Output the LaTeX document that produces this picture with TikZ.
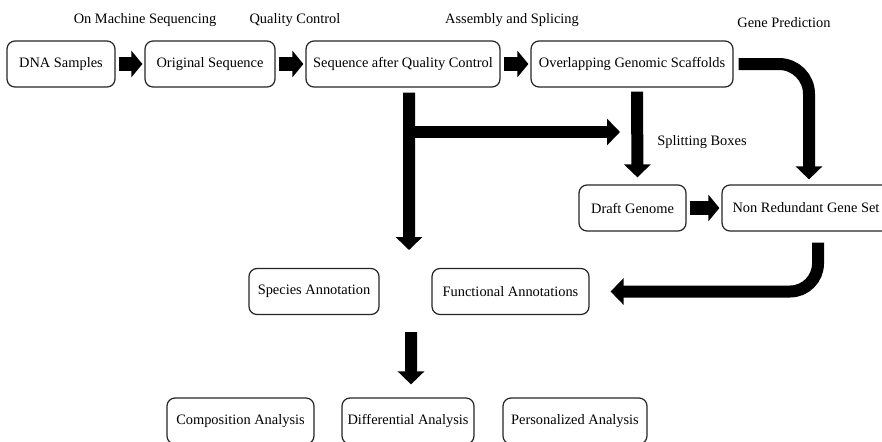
\documentclass[tikz,border=0pt]{standalone}
\usepackage{fontspec}
\setmainfont{Liberation Serif}
\usetikzlibrary{arrows.meta}

\begin{document}
\begin{tikzpicture}[x=0.02cm, y=-0.02cm,
	box/.style={draw=black!85, line width=0.7pt, rounded corners=0.16cm, minimum height=0.92cm, inner sep=0pt, font=\fontsize{8.2}{10}\selectfont},
	lbl/.style={font=\fontsize{8.2}{10}\selectfont},
	fat/.style={line width=0.29cm, -{Triangle[length=0.22cm, width=0.52cm]}, shorten <=0.06cm, shorten >=0.04cm},
	big/.style={line width=0.24cm, -{Triangle[length=0.26cm, width=0.52cm]}}]
	\fill[white] (0,0) rectangle (882,441);
	\useasboundingbox (0,0) rectangle (882,441);
	
	\node[box, minimum width=2.16cm] (dna) at (61,64) {DNA Samples};
	\node[box, minimum width=2.6cm] (orig) at (210,64) {Original Sequence};
	\node[box, minimum width=3.88cm] (seqqc) at (403,64) {Sequence after Quality Control};
	\node[box, minimum width=4.04cm] (scaff) at (632,64) {Overlapping Genomic Scaffolds};
	\node[box, minimum width=2.14cm] (draft) at (632.5,208) {Draft Genome};
	\node[box, minimum width=3.36cm] (nrgs) at (806,208) {Non Redundant Gene Set};
	\node[box, minimum width=2.6cm] (species) at (314,291.5) {Species Annotation};
	\node[box, minimum width=3.14cm] (func) at (510.5,291.5) {Functional Annotations};
	\node[box, minimum width=2.94cm] (comp) at (240.5,421) {Composition Analysis};
	\node[box, minimum width=2.64cm] (diff) at (408,421) {Differential Analysis};
	\node[box, minimum width=2.88cm] (pers) at (575,421) {Personalized Analysis};
	
	\node[lbl] (seqlbl) at (145,20) {On Machine Sequencing};
	\node[lbl] (qclbl) at (295,20) {Quality Control};
	\node[lbl] (asmlbl) at (512,20) {Assembly and Splicing};
	\node[lbl] (genelbl) at (784,23) {Gene Prediction};
	\node[lbl] (splitlbl) at (702,142) {Splitting Boxes};
	
	\coordinate (fork) at (409,132);
	\coordinate (annot) at (409,250);
	\coordinate (merge) at (620,132);
	\coordinate (results) at (411,332);
	
	\draw[fat] (dna) -- (orig);
	\draw[fat] (orig) -- (seqqc);
	\draw[fat] (seqqc) -- (scaff);
	\draw[fat] (draft) -- (nrgs);
	
	\draw[big, shorten <=0.1cm] ([xshift=0.12cm]seqqc.south) -- (annot);
	\draw[big] (fork) -- (merge);
	\draw[big, shorten <=0.08cm, shorten >=0.14cm] ([xshift=0.1cm]scaff.south) -- ([xshift=0.1cm]draft.north);
	\draw[big, rounded corners=0.6cm, shorten <=0.1cm, shorten >=0.1cm] (scaff.east) -| ([xshift=0.06cm]nrgs.north);
	\draw[big, rounded corners=0.56cm, shorten <=0.22cm, shorten >=0.42cm] ([xshift=0.24cm]nrgs.south) |- (func.east);
	\draw[big, shorten >=0.26cm] (results) -- ([xshift=0.06cm]diff.north);
\end{tikzpicture}
\end{document}
